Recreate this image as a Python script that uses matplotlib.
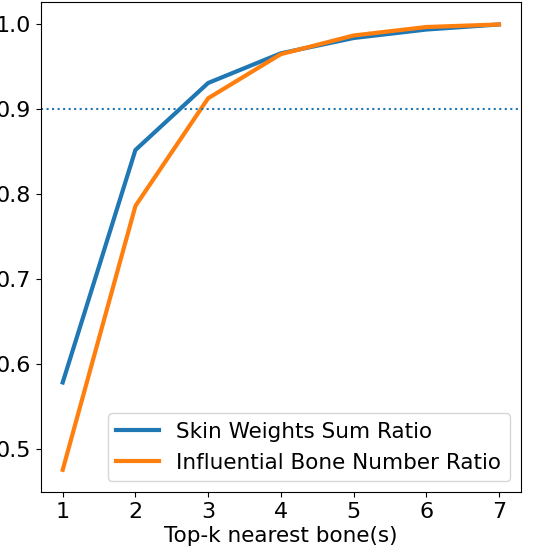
import matplotlib
matplotlib.use('Agg')
import matplotlib.pyplot as plt

# top-k nearest bones
k = [1, 2, 3, 4, 5, 6, 7]
skin_weight_ratio = [0.578, 0.852, 0.931, 0.966, 0.984, 0.994, 1.0]
bone_number_ratio = [0.475, 0.786, 0.913, 0.965, 0.987, 0.997, 1.0]

fig = plt.figure(figsize=(5.38, 5.48), dpi=100)
ax = fig.add_axes([0.076, 0.102, 0.892, 0.894])

ax.plot(k, skin_weight_ratio, lw=3, label='Skin Weights Sum Ratio')
ax.plot(k, bone_number_ratio, lw=3, label='Influential Bone Number Ratio')
ax.axhline(0.9, ls=':', lw=1.5, color='C0')

ax.set_xlabel('Top-k nearest bone(s)', fontsize=15.5, labelpad=3)
ax.tick_params(labelsize=16)
ax.legend(loc='lower right', fontsize=15.5)

fig.savefig('out.png')
